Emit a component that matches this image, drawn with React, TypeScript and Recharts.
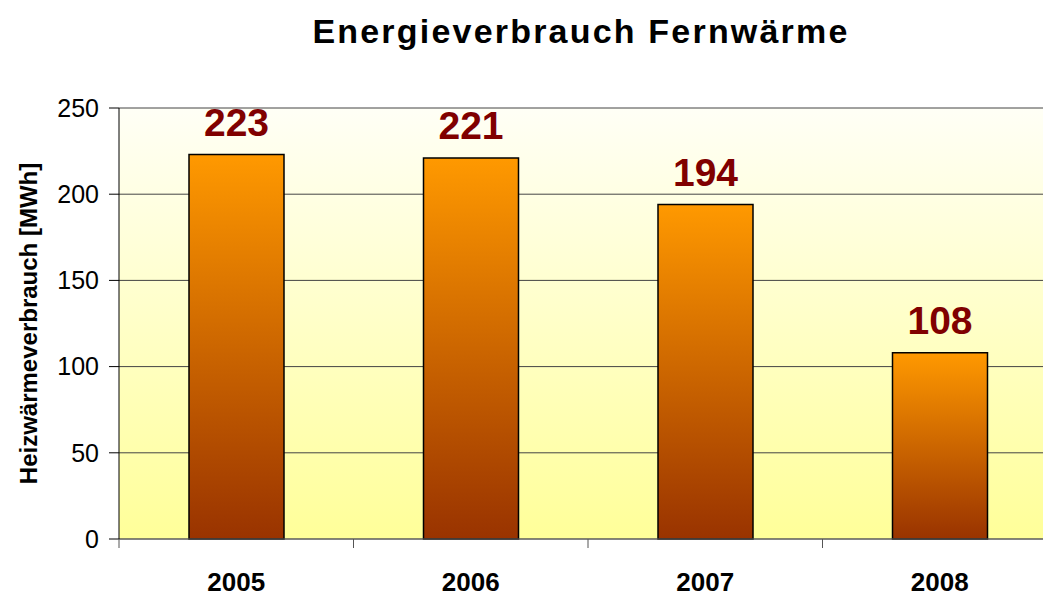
// Energieverbrauch Fernwärme – Säulendiagramm 2005–2008

import { BarChart, Bar, XAxis, YAxis, CartesianGrid, LabelList } from 'recharts'

const years = ['2005', '2006', '2007', '2008']
const verbrauch = [223, 221, 194, 108]
const yTicks = [0, 50, 100, 150, 200, 250]

const data = years.map((jahr, i) => ({ jahr, wert: verbrauch[i] }))

const FONT = '"Liberation Sans", Arial, sans-serif'

// Jahresbeschriftung plus kleine Striche an den Kategoriegrenzen
function JahrTick(props: any) {
    const { x, y, payload, index, visibleTicksCount } = props
    const half = payload?.offset ?? 0
    const isLast = index === visibleTicksCount - 1
    return (
        <g>
            <line x1={x - half} x2={x - half} y1={y} y2={y + 9} stroke="#555" strokeWidth={1} />
            {isLast && <line x1={x + half} x2={x + half} y1={y} y2={y + 9} stroke="#555" strokeWidth={1} />}
            <text x={x} y={y + 52} textAnchor="middle" fontSize={26} fontWeight="bold" fill="#000" fontFamily={FONT}>
                {payload.value}
            </text>
        </g>
    )
}

export default function App() {
    return (
        <div style={{ position: 'absolute', left: 0, top: 0, width: 1043, height: 597, overflow: 'hidden', background: '#fff' }}>
            <svg width={1043} height={60} style={{ position: 'absolute', left: 0, top: 0 }}>
                <text x={581} y={43} textAnchor="middle" fontSize={34} fontWeight="bold" fontFamily={FONT} letterSpacing={2.2} fill="#000">
                    Energieverbrauch Fernwärme
                </text>
            </svg>
            <BarChart
                width={1060}
                height={597}
                data={data}
                margin={{ top: 108, right: 3, left: 0, bottom: 0 }}
            >
                <defs>
                    <linearGradient id="bgFlaeche" x1="0" y1="0" x2="0" y2="1">
                        <stop offset="0%" stopColor="#FFFFF6" />
                        <stop offset="100%" stopColor="#FFFF99" />
                    </linearGradient>
                    <linearGradient id="saeule" x1="0" y1="0" x2="0" y2="1">
                        <stop offset="0%" stopColor="#FF9900" />
                        <stop offset="100%" stopColor="#993300" />
                    </linearGradient>
                </defs>
                <CartesianGrid vertical={false} stroke="#444" fill="url(#bgFlaeche)" fillOpacity={1} />
                <XAxis
                    dataKey="jahr"
                    height={58}
                    tickLine={false}
                    tickSize={0}
                    tickMargin={0}
                    axisLine={{ stroke: '#666' }}
                    tick={<JahrTick />}
                    interval={0}
                />
                <YAxis
                    width={119}
                    domain={[0, 250]}
                    ticks={yTicks}
                    tickSize={10}
                    tickMargin={10}
                    tickLine={{ stroke: '#000' }}
                    axisLine={{ stroke: '#000' }}
                    tick={{ fontSize: 25, fill: '#000', fontFamily: FONT }}
                    label={{
                        value: 'Heizwärmeverbrauch [MWh]',
                        angle: -90,
                        position: 'center',
                        dx: -31,
                        style: { fontSize: 24, fontWeight: 'bold', fill: '#000', fontFamily: FONT, textAnchor: 'middle' },
                    }}
                />
                <Bar dataKey="wert" fill="url(#saeule)" stroke="#000" strokeWidth={1.5} barSize={95} isAnimationActive={false}>
                    <LabelList
                        dataKey="wert"
                        position="top"
                        offset={19}
                        style={{ fontSize: 39, fontWeight: 'bold', fill: '#800000', fontFamily: FONT }}
                    />
                </Bar>
            </BarChart>
        </div>
    )
}
